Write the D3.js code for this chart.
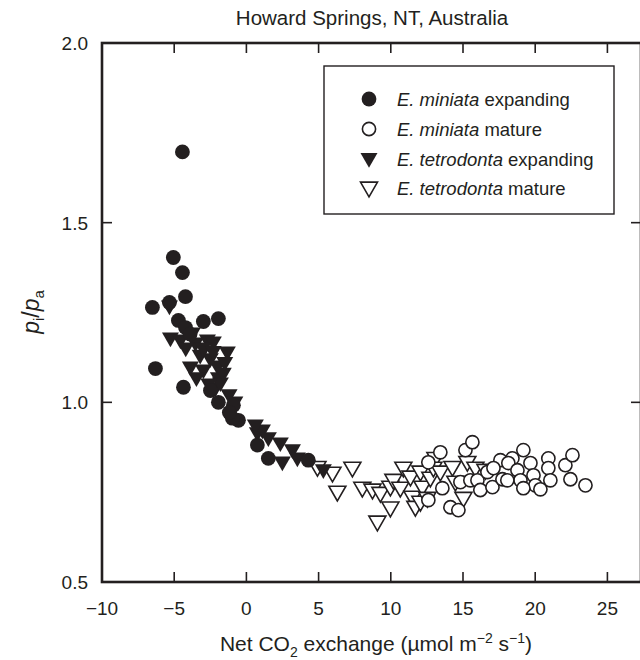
<!DOCTYPE html>
<html><head><meta charset="utf-8">
<script src="https://cdn.jsdelivr.net/npm/d3@7"></script>
<style>body{margin:0;background:#fff}svg{display:block}text{font-family:"Liberation Sans",Arial,sans-serif;fill:#231f20}</style>
</head><body>
<svg id="c" width="640" height="660"></svg>
<script>
// x = Net CO2 exchange, y = pi/pa
const miniataExpanding = [
  [-4.43,1.697],[-5.06,1.403],[-4.43,1.361],[-4.22,1.294],[-5.33,1.278],[-6.51,1.264],
  [-4.71,1.228],[-4.22,1.208],[-2.98,1.225],[-1.94,1.233],[-6.30,1.094],[-4.36,1.042],
  [-2.49,1.033],[-1.94,1.000],[-0.90,0.992],[-0.55,0.950],[-0.97,0.956],[-1.18,0.972],
  [0.76,0.881],[1.52,0.844],[4.29,0.839],[-3.9,1.19]
];
const miniataMature = [
  [13.43,0.861],[15.17,0.867],[15.65,0.889],[12.60,0.833],[13.57,0.761],[12.60,0.728],
  [14.13,0.708],[14.68,0.700],[14.82,0.778],[15.51,0.783],[16.00,0.783],[16.20,0.756],
  [16.69,0.806],[17.04,0.764],[17.59,0.839],[18.42,0.844],[19.18,0.867],[18.14,0.831],
  [19.67,0.831],[18.77,0.811],[17.73,0.786],[18.98,0.783],[19.88,0.797],[20.01,0.769],
  [19.18,0.761],[20.36,0.758],[20.91,0.844],[20.91,0.817],[21.05,0.783],[22.09,0.825],
  [22.58,0.853],[22.44,0.786],[23.48,0.769],[17.11,0.817],[18.07,0.783]
];
const tetrodontaExpanding = [
  [-5.33,1.267],[-5.26,1.178],[-4.57,1.172],[-3.74,1.192],[-2.70,1.172],[-2.29,1.167],
  [-1.32,1.139],[-3.53,1.164],[-3.88,1.097],[-2.98,1.089],[-3.46,1.067],[-1.94,1.067],
  [-2.15,1.039],[-1.80,1.053],[0.76,0.914],[1.11,0.922],[1.52,0.900],[2.35,0.886],
  [3.19,0.867],[2.49,0.833],[3.53,0.844],[5.33,0.811],[0.62,0.936],
  [-2.5,1.12],[-3.2,1.13],[-2.0,1.10],[-1.6,1.08],[-2.6,1.05],[-1.2,1.02],[-0.8,1.0],
  [-3.0,1.15],[-4.2,1.15],[-2.3,1.14],[-1.5,1.11]
];
const tetrodontaMature = [
  [4.92,0.819],[5.96,0.803],[7.34,0.817],[6.30,0.750],[8.03,0.761],[8.73,0.756],
  [9.28,0.747],[9.07,0.667],[9.97,0.706],[9.97,0.764],[10.18,0.783],[10.87,0.817],
  [10.66,0.761],[11.36,0.792],[11.50,0.736],[11.70,0.708],[12.05,0.806],[12.19,0.764],
  [12.74,0.789],[13.09,0.844],[12.95,0.817],[13.43,0.806],[14.27,0.819],[14.47,0.778],
  [15.03,0.733],[15.30,0.833],[15.86,0.817],[16.55,0.811],[12.05,0.722],[12.53,0.733]
];
const xTicks = [-10,-5,0,5,10,15,20,25];
const yTicks = [0.5,1.0,1.5,2.0];
const legendLabels = [
  ["E. miniata"," expanding"],["E. miniata"," mature"],
  ["E. tetrodonta"," expanding"],["E. tetrodonta"," mature"]
];

const ink = "#231f20";
const svg = d3.select("#c");
const L = 102, R = 641, T = 43, B = 582;
const x = d3.scaleLinear().domain([-10, -10 + (R - L) / 14.44]).range([L, R]);
const y = d3.scaleLinear().domain([0.5, 2.0]).range([B, T]);

// title
svg.append("text").attr("x", 372).attr("y", 25).attr("text-anchor", "middle")
  .style("font-size", "20.5px").text("Howard Springs, NT, Australia");

// ticks (inward) on all four sides
const tk = 10;
const g = svg.append("g").attr("stroke", ink).attr("stroke-width", 1.6);
xTicks.forEach(v => {
  g.append("line").attr("x1", x(v)).attr("x2", x(v)).attr("y1", B).attr("y2", B - tk);
  g.append("line").attr("x1", x(v)).attr("x2", x(v)).attr("y1", T).attr("y2", T + tk);
});
yTicks.forEach(v => {
  g.append("line").attr("x1", L).attr("x2", L + tk).attr("y1", y(v)).attr("y2", y(v));
  g.append("line").attr("x1", R).attr("x2", R - tk).attr("y1", y(v)).attr("y2", y(v));
});
// frame
svg.append("rect").attr("x", L).attr("y", T).attr("width", R - L).attr("height", B - T)
  .attr("fill", "none").attr("stroke", ink).attr("stroke-width", 2.6);

// tick labels
svg.selectAll(".xl").data(xTicks).join("text").attr("class", "xl")
  .attr("x", d => x(d)).attr("y", 615).attr("text-anchor", "middle")
  .style("font-size", "19px").text(d => d < 0 ? "\u2212" + Math.abs(d) : d);
svg.selectAll(".yl").data(yTicks).join("text").attr("class", "yl")
  .attr("x", 88).attr("y", d => y(d) + 7).attr("text-anchor", "end")
  .style("font-size", "19px").text(d => d.toFixed(1));

// axis titles
const xt = svg.append("text").attr("x", 376).attr("y", 651).attr("text-anchor", "middle").style("font-size", "21px");
xt.append("tspan").text("Net CO");
xt.append("tspan").attr("dy", 6).style("font-size", "14px").text("2");
xt.append("tspan").attr("dy", -6).text(" exchange (\u00b5mol m");
xt.append("tspan").attr("dy", -8).style("font-size", "14px").text("\u22122");
xt.append("tspan").attr("dy", 8).text(" s");
xt.append("tspan").attr("dy", -8).style("font-size", "14px").text("\u22121");
xt.append("tspan").attr("dy", 8).text(")");

const yt = svg.append("text").attr("transform", "translate(39,312) rotate(-90)")
  .attr("text-anchor", "middle").style("font-size", "23px");
yt.append("tspan").style("font-style", "italic").text("p");
yt.append("tspan").attr("dy", 5).style("font-size", "15px").text("i");
yt.append("tspan").attr("dy", -5).text("/");
yt.append("tspan").style("font-style", "italic").text("p");
yt.append("tspan").attr("dy", 5).style("font-size", "15px").text("a");

// markers
const tri = d3.symbol().type(d3.symbolTriangle).size(125)();
const plot = svg.append("g");
function circles(data, filled) {
  plot.selectAll(null).data(data).join("circle")
    .attr("cx", d => x(d[0])).attr("cy", d => y(d[1])).attr("r", filled ? 7.4 : 6.6)
    .attr("fill", filled ? ink : "#fff").attr("stroke", ink).attr("stroke-width", filled ? 0 : 1.6);
}
function tris(data, filled) {
  plot.selectAll(null).data(data).join("path")
    .attr("d", tri)
    .attr("transform", d => `translate(${x(d[0])},${y(d[1]) - 1}) rotate(180)`)
    .attr("fill", filled ? ink : "#fff").attr("stroke", ink).attr("stroke-width", filled ? 0 : 1.6);
}
tris(tetrodontaMature, false);
circles(miniataMature, false);
tris(tetrodontaExpanding, true);
circles(miniataExpanding, true);

// legend
svg.append("rect").attr("x", 324).attr("y", 66).attr("width", 290).attr("height", 148)
  .attr("fill", "#fff").attr("stroke", ink).attr("stroke-width", 1.4);
const lg = svg.append("g");
const rows = [99, 129, 159, 188];
const kinds = [["c", true], ["c", false], ["t", true], ["t", false]];
kinds.forEach((k, i) => {
  if (k[0] === "c") {
    lg.append("circle").attr("cx", 369).attr("cy", rows[i]).attr("r", k[1] ? 7.4 : 6.6)
      .attr("fill", k[1] ? ink : "#fff").attr("stroke", ink).attr("stroke-width", k[1] ? 0 : 1.6);
  } else {
    lg.append("path").attr("d", tri).attr("transform", `translate(369,${rows[i] - 1}) rotate(180)`)
      .attr("fill", k[1] ? ink : "#fff").attr("stroke", ink).attr("stroke-width", k[1] ? 0 : 1.6);
  }
  const t = lg.append("text").attr("x", 397).attr("y", rows[i] + 6.5).style("font-size", "18.5px");
  t.append("tspan").style("font-style", "italic").text(legendLabels[i][0]);
  t.append("tspan").text(legendLabels[i][1]);
});
</script>
</body></html>
